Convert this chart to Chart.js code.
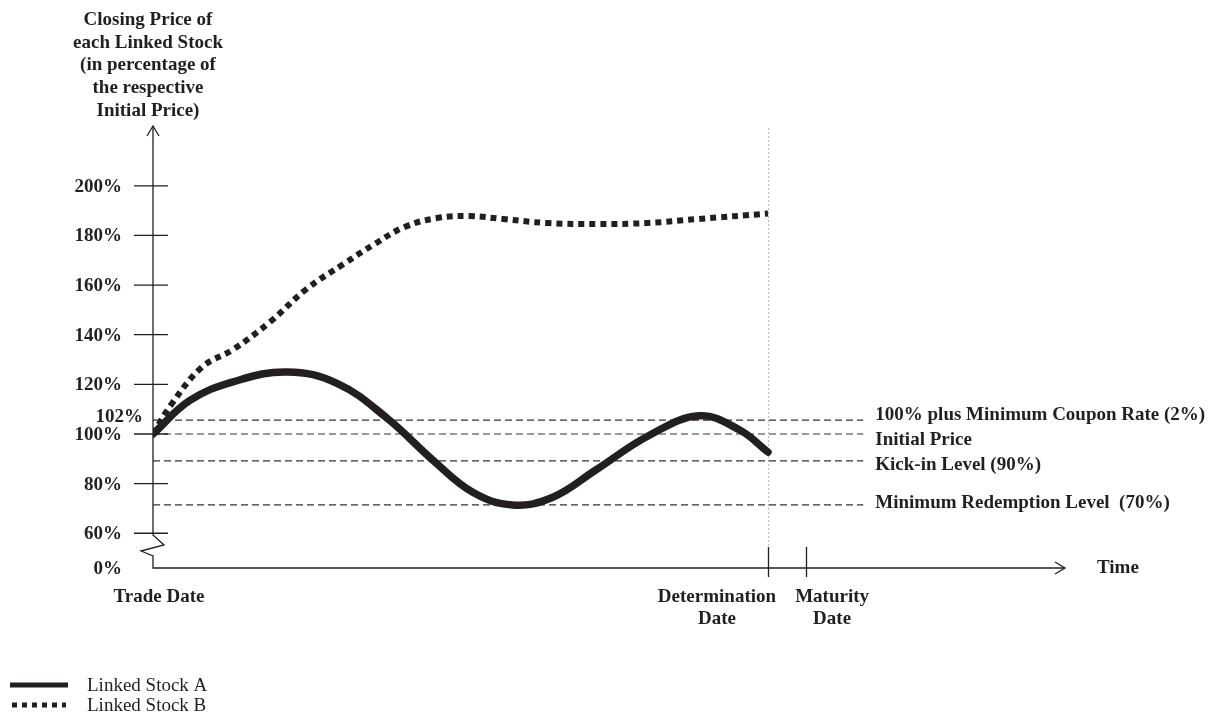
<!DOCTYPE html>
<html><head><meta charset="utf-8">
<script src="https://cdn.jsdelivr.net/npm/chart.js@4.4.1/dist/chart.umd.min.js"></script>
<style>html,body{margin:0;padding:0;background:#fff;}#wrap{position:relative;width:1218px;height:720px;}</style>
</head><body><div id="wrap"><canvas id="c" width="1218" height="720"></canvas></div>
<script>
// ---- data ----
const yAxisTitle = ["Closing Price of", "each Linked Stock", "(in percentage of", "the respective", "Initial Price)"];
const xAxisTitle = "Time";
const tickValues = [60, 80, 100, 120, 140, 160, 180, 200];
const tickLabels = ["60%", "80%", "100%", "120%", "140%", "160%", "180%", "200%"];
const baseLabel = "0%";
const couponTickLabel = "102%";

const stockATime   = [0, 6, 13, 21.8, 30, 38, 45.5, 52, 58.5, 65, 72, 80.8, 88.9, 95.4, 100];
const stockAValues = [100, 113.5, 121, 125.0, 120.3, 106.5, 89.5, 76.5, 71.4, 74.5, 85.5, 99.6, 107.3, 101.6, 92.7];

const stockBTime   = [0, 3, 8, 13, 19, 25, 31, 36, 41, 46.2, 51.5, 57, 64.1, 72.2, 80.3, 88.5, 100];
const stockBValues = [100, 112, 127, 134, 145.1, 158.5, 168.5, 176.5, 183.5, 187.0, 187.8, 186.6, 185.0, 184.6, 185.0, 186.6, 188.8];

// reference (dashed) levels as drawn in the picture, and their labels
const refLineValues = [105.6, 100, 89.2, 71.4];
const refLineLabels = ["100% plus Minimum Coupon Rate (2%)", "Initial Price", "Kick-in Level (90%)", "Minimum Redemption Level  (70%)"];
const refLineEnd = 115.5;

const dateMarks  = [0, 100, 106.2];
const dateLabels = [["Trade Date"], ["Determination", "Date"], ["Maturity", "Date"]];

const seriesNames = ["Linked Stock A", "Linked Stock B"];

// ---- chart ----
const INK = '#231f20';
const FONT = '"Liberation Serif", "Times New Roman", serif';
const toPts = (xs, ys) => xs.map((t, i) => ({x: t, y: ys[i]}));

const datasets = [
  {label: seriesNames[0], data: toPts(stockATime, stockAValues), borderColor: INK, borderWidth: 7.5,
   pointRadius: 0, tension: 0.4, borderCapStyle: 'round', order: 1, fill: false},
  {label: seriesNames[1], data: toPts(stockBTime, stockBValues), borderColor: INK, borderWidth: 6,
   borderDash: [6, 5], pointRadius: 0, tension: 0.4, borderCapStyle: 'butt', order: 2, fill: false}
];
refLineValues.forEach((v, i) => datasets.push({
  label: refLineLabels[i], data: [{x: 0, y: v}, {x: refLineEnd, y: v}], borderColor: '#333',
  borderWidth: 1.2, borderDash: [7, 4], pointRadius: 0, tension: 0, order: 5, fill: false
}));

function seg(ctx, x1, y1, x2, y2) { ctx.beginPath(); ctx.moveTo(x1, y1); ctx.lineTo(x2, y2); ctx.stroke(); }

const schematic = {
  id: 'schematic',
  beforeDatasetsDraw(chart) {
    const {ctx, chartArea: a, scales: {x}} = chart;
    ctx.save();
    const xd = Math.round(x.getPixelForValue(dateMarks[1])) + 0.5;
    ctx.strokeStyle = '#b8b8b8'; ctx.lineWidth = 1; ctx.setLineDash([2, 2]);
    seg(ctx, xd, a.top + 2, xd, a.bottom - 21);
    ctx.restore();
  },
  afterDraw(chart) {
    const {ctx, chartArea: a, scales: {x, y}} = chart;
    ctx.save();
    ctx.strokeStyle = INK; ctx.fillStyle = INK; ctx.lineWidth = 1.3; ctx.setLineDash([]);
    const x0 = x.getPixelForValue(0), yb = a.bottom;
    // y axis with break
    ctx.beginPath();
    ctx.moveTo(x0, a.top); ctx.lineTo(x0, yb - 33); ctx.lineTo(x0 + 11, yb - 23);
    ctx.lineTo(x0 - 12, yb - 17); ctx.lineTo(x0, yb - 12); ctx.lineTo(x0, yb);
    ctx.lineTo(a.right, yb); ctx.stroke();
    // arrows
    ctx.beginPath(); ctx.moveTo(x0 - 6, a.top + 10); ctx.lineTo(x0, a.top); ctx.lineTo(x0 + 6, a.top + 10); ctx.stroke();
    ctx.beginPath(); ctx.moveTo(a.right - 10, yb - 6); ctx.lineTo(a.right, yb); ctx.lineTo(a.right - 10, yb + 6); ctx.stroke();
    // ticks
    ctx.font = 'bold 19px ' + FONT; ctx.textBaseline = 'middle'; ctx.textAlign = 'right';
    tickValues.forEach((v, i) => {
      const py = y.getPixelForValue(v);
      seg(ctx, x0 - 19, py, x0 + 15, py);
      ctx.fillText(tickLabels[i], x0 - 31, py + 1);
    });
    ctx.fillText(baseLabel, x0 - 31, yb + 1);
    ctx.fillText(couponTickLabel, x0 - 10, y.getPixelForValue(refLineValues[0]) - 3);
    // x axis title
    ctx.textAlign = 'left';
    ctx.fillText(xAxisTitle, a.right + 32, yb);
    // reference line labels
    const offs = [-5, 6, 4, -2];
    refLineLabels.forEach((t, i) => ctx.fillText(t, x.getPixelForValue(refLineEnd) + 12, y.getPixelForValue(refLineValues[i]) + offs[i]));
    // date marks
    const dOff = [6, -51, 26];
    ctx.textAlign = 'center';
    dateMarks.forEach((t, i) => {
      const px = x.getPixelForValue(t);
      if (i > 0) seg(ctx, Math.round(px) + 0.5, yb - 21, Math.round(px) + 0.5, yb + 9);
      dateLabels[i].forEach((ln, j) => ctx.fillText(ln, px + dOff[i], yb + 29 + j * 22));
    });
    // y axis title
    yAxisTitle.forEach((ln, i) => ctx.fillText(ln, x0 - 5, 20 + i * 22.7));
    // legend
    ctx.textAlign = 'left'; ctx.font = '19px ' + FONT;
    ctx.lineWidth = 5; ctx.lineCap = 'butt';
    seg(ctx, 10, 685, 68, 685);
    ctx.setLineDash([5, 5]); seg(ctx, 12, 705, 66, 705); ctx.setLineDash([]);
    ctx.fillText(seriesNames[0], 87, 686);
    ctx.fillText(seriesNames[1], 87, 706);
    ctx.restore();
  }
};

new Chart(document.getElementById('c'), {
  type: 'line',
  data: {datasets},
  options: {
    responsive: false, animation: false, devicePixelRatio: 1,
    layout: {padding: {left: 153, right: 153, top: 126, bottom: 152}},
    scales: {
      x: {type: 'linear', min: 0, max: 148.3, display: false},
      y: {type: 'linear', min: 46, max: 224.1, display: false}
    },
    plugins: {legend: {display: false}, tooltip: {enabled: false}}
  },
  plugins: [schematic]
});
</script></body></html>
